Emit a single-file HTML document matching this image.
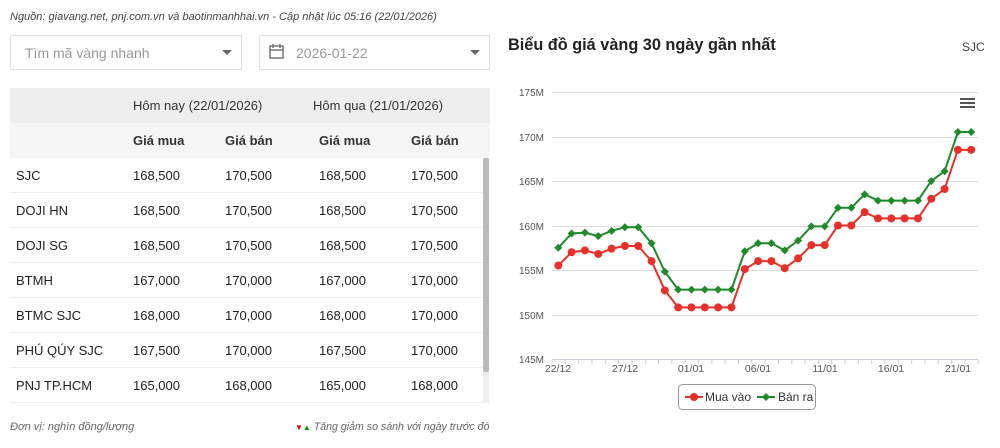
<!DOCTYPE html>
<html><head><meta charset="utf-8"><style>
body{margin:0;width:1000px;height:448px;background:#fff;font-family:"Liberation Sans",sans-serif;position:relative;overflow:hidden;color:#333}
.a{position:absolute}
.src{left:10px;top:11px;font-size:11px;font-style:italic;color:#444}
.box{border:1px solid #e0e0e0;height:33px;top:35px;border-radius:2px}
.ph{font-size:14px;color:#999;top:45px}
.caret{width:0;height:0;border-left:5px solid transparent;border-right:5px solid transparent;border-top:5px solid #666}
table{border-collapse:collapse;font-size:13px;width:480px;table-layout:fixed}
td{height:34px;padding:0 0 0 6px;border-bottom:1px solid #eee;color:#222}
.h1 td{background:#eee;height:35px;border:none;color:#333}
.h2 td{background:#f5f5f5;font-weight:bold;height:35px;border:none;color:#333}
</style></head><body>
<div class="a src">Nguồn: giavang.net, pnj.com.vn và baotinmanhhai.vn - Cập nhật lúc 05:16 (22/01/2026)</div>
<div class="a box" style="left:10px;width:230px"></div>
<div class="a ph" style="left:25px">Tìm mã vàng nhanh</div>
<div class="a caret" style="left:222px;top:50px"></div>
<div class="a box" style="left:259px;width:229px"></div>
<svg class="a" style="left:268px;top:43px" width="18" height="18"><rect x="2" y="3" width="13" height="12" fill="none" stroke="#777" stroke-width="1.5"/><line x1="2" y1="7" x2="15" y2="7" stroke="#777" stroke-width="1.5"/><line x1="5" y1="1" x2="5" y2="5" stroke="#777" stroke-width="1.5"/><line x1="12" y1="1" x2="12" y2="5" stroke="#777" stroke-width="1.5"/></svg>
<div class="a ph" style="left:296px">2026-01-22</div>
<div class="a caret" style="left:470px;top:50px"></div>
<table class="a" style="left:10px;top:88px">
<colgroup><col style="width:119px"><col style="width:92px"><col style="width:92px"><col style="width:92px"><col style="width:85px"></colgroup>
<tr class="h1"><td></td><td colspan="2" style="padding-left:4px">Hôm nay (22/01/2026)</td><td colspan="2" style="padding-left:0">Hôm qua (21/01/2026)</td></tr>
<tr class="h2"><td></td><td style="padding-left:4px">Giá mua</td><td style="padding-left:4px">Giá bán</td><td>Giá mua</td><td>Giá bán</td></tr>
<tr><td>SJC</td><td style="padding-left:4px">168,500</td><td style="padding-left:4px">170,500</td><td>168,500</td><td>170,500</td></tr>
<tr><td>DOJI HN</td><td style="padding-left:4px">168,500</td><td style="padding-left:4px">170,500</td><td>168,500</td><td>170,500</td></tr>
<tr><td>DOJI SG</td><td style="padding-left:4px">168,500</td><td style="padding-left:4px">170,500</td><td>168,500</td><td>170,500</td></tr>
<tr><td>BTMH</td><td style="padding-left:4px">167,000</td><td style="padding-left:4px">170,000</td><td>167,000</td><td>170,000</td></tr>
<tr><td>BTMC SJC</td><td style="padding-left:4px">168,000</td><td style="padding-left:4px">170,000</td><td>168,000</td><td>170,000</td></tr>
<tr><td>PHÚ QÚY SJC</td><td style="padding-left:4px">167,500</td><td style="padding-left:4px">170,000</td><td>167,500</td><td>170,000</td></tr>
<tr><td>PNJ TP.HCM</td><td style="padding-left:4px">165,000</td><td style="padding-left:4px">168,000</td><td>165,000</td><td>168,000</td></tr>
</table>
<div class="a" style="left:483px;top:158px;width:6px;height:244px;background:#eee"></div>
<div class="a" style="left:483px;top:158px;width:6px;height:214px;background:#bbb;border-radius:2px"></div>
<div class="a" style="left:10px;top:421px;font-size:11px;font-style:italic;color:#666">Đơn vị: nghìn đồng/lượng</div>
<div class="a" style="left:295px;top:421px;font-size:10.6px;font-style:italic;color:#666"><span style="color:#d00;font-style:normal;font-size:8px">▼</span><span style="color:#090;font-style:normal;font-size:8px">▲</span> Tăng giảm so sánh với ngày trước đó</div>
<div class="a" style="left:508px;top:36px;font-size:16.3px;font-weight:bold;color:#222">Biểu đồ giá vàng 30 ngày gần nhất</div>
<div class="a" style="left:962px;top:40px;font-size:12px;color:#444">SJC</div>
<svg id="ch" class="a" style="left:0;top:0" width="1000" height="448">
<g stroke="#ddd" stroke-width="1">
<line x1="552" x2="978" y1="92.5" y2="92.5"/><line x1="552" x2="978" y1="137.5" y2="137.5"/><line x1="552" x2="978" y1="181.5" y2="181.5"/><line x1="552" x2="978" y1="226.5" y2="226.5"/><line x1="552" x2="978" y1="270.5" y2="270.5"/><line x1="552" x2="978" y1="315.5" y2="315.5"/><line x1="552" x2="978" y1="359.5" y2="359.5" stroke="#ccd"/>
</g>
<g font-size="10" fill="#555" text-anchor="end" font-family="Liberation Sans">
<text x="544" y="96">175M</text><text x="544" y="141">170M</text><text x="544" y="185">165M</text><text x="544" y="230">160M</text><text x="544" y="274">155M</text><text x="544" y="319">150M</text><text x="544" y="363">145M</text>
</g>
<g font-size="10.5" fill="#555" text-anchor="middle" font-family="Liberation Sans">
<text x="558" y="372">22/12</text><text x="625" y="372">27/12</text><text x="691" y="372">01/01</text><text x="758" y="372">06/01</text><text x="825" y="372">11/01</text><text x="891" y="372">16/01</text><text x="958" y="372">21/01</text>
</g>
<g id="ticks" stroke="#ccd"></g>
<g fill="#555"><rect x="960" y="98" width="15" height="2"/><rect x="960" y="102" width="15" height="2"/><rect x="960" y="106" width="15" height="2"/></g>
<g id="ser"></g>
<rect x="678.5" y="384.5" width="137" height="25" rx="4" fill="#fff" stroke="#999"/>
<line x1="685" x2="703" y1="397" y2="397" stroke="#e8302a" stroke-width="2"/><circle cx="694" cy="397" r="4" fill="#e8302a"/>
<text x="705" y="401" font-size="12" fill="#333">Mua vào</text>
<line x1="757" x2="775" y1="397" y2="397" stroke="#1f8a2a" stroke-width="2"/><path d="M766 393 L770 397 L766 401 L762 397Z" fill="#1f8a2a"/>
<text x="778" y="401" font-size="12" fill="#333">Bán ra</text>
</svg>
<script>
var r=[155.5,157,157.2,156.8,157.4,157.7,157.7,156,152.7,150.8,150.8,150.8,150.8,150.8,155.1,156,156,155.2,156.3,157.8,157.8,160,160,161.5,160.8,160.8,160.8,160.8,163,164.1,168.5,168.5];
var g=[157.5,159.1,159.2,158.8,159.4,159.8,159.8,158,154.8,152.8,152.8,152.8,152.8,152.8,157.1,158,158,157.2,158.3,159.9,159.9,162,162,163.5,162.8,162.8,162.8,162.8,165,166.1,170.5,170.5];
function X(i){return 558.3+i*13.32}function Y(v){return 92+(175-v)*8.9}
var s='',pr='',pg='';
for(var i=0;i<32;i++){pr+=X(i)+','+Y(r[i])+' ';pg+=X(i)+','+Y(g[i])+' ';}
s+='<polyline points="'+pg+'" fill="none" stroke="#1f8a2a" stroke-width="2"/>';
s+='<polyline points="'+pr+'" fill="none" stroke="#e8302a" stroke-width="2"/>';
for(i=0;i<32;i++){var x=X(i),y=Y(g[i]);s+='<path d="M'+x+' '+(y-4)+' L'+(x+4)+' '+y+' L'+x+' '+(y+4)+' L'+(x-4)+' '+y+'Z" fill="#1f8a2a"/>';s+='<circle cx="'+x+'" cy="'+Y(r[i])+'" r="4" fill="#e8302a"/>';}
document.getElementById('ser').innerHTML=s;
var t='';for(i=0;i<33;i++){var x=552+i*13.32;t+='<line x1="'+x+'" x2="'+x+'" y1="360" y2="364"/>';}
document.getElementById('ticks').innerHTML=t;
</script>
</body></html>
